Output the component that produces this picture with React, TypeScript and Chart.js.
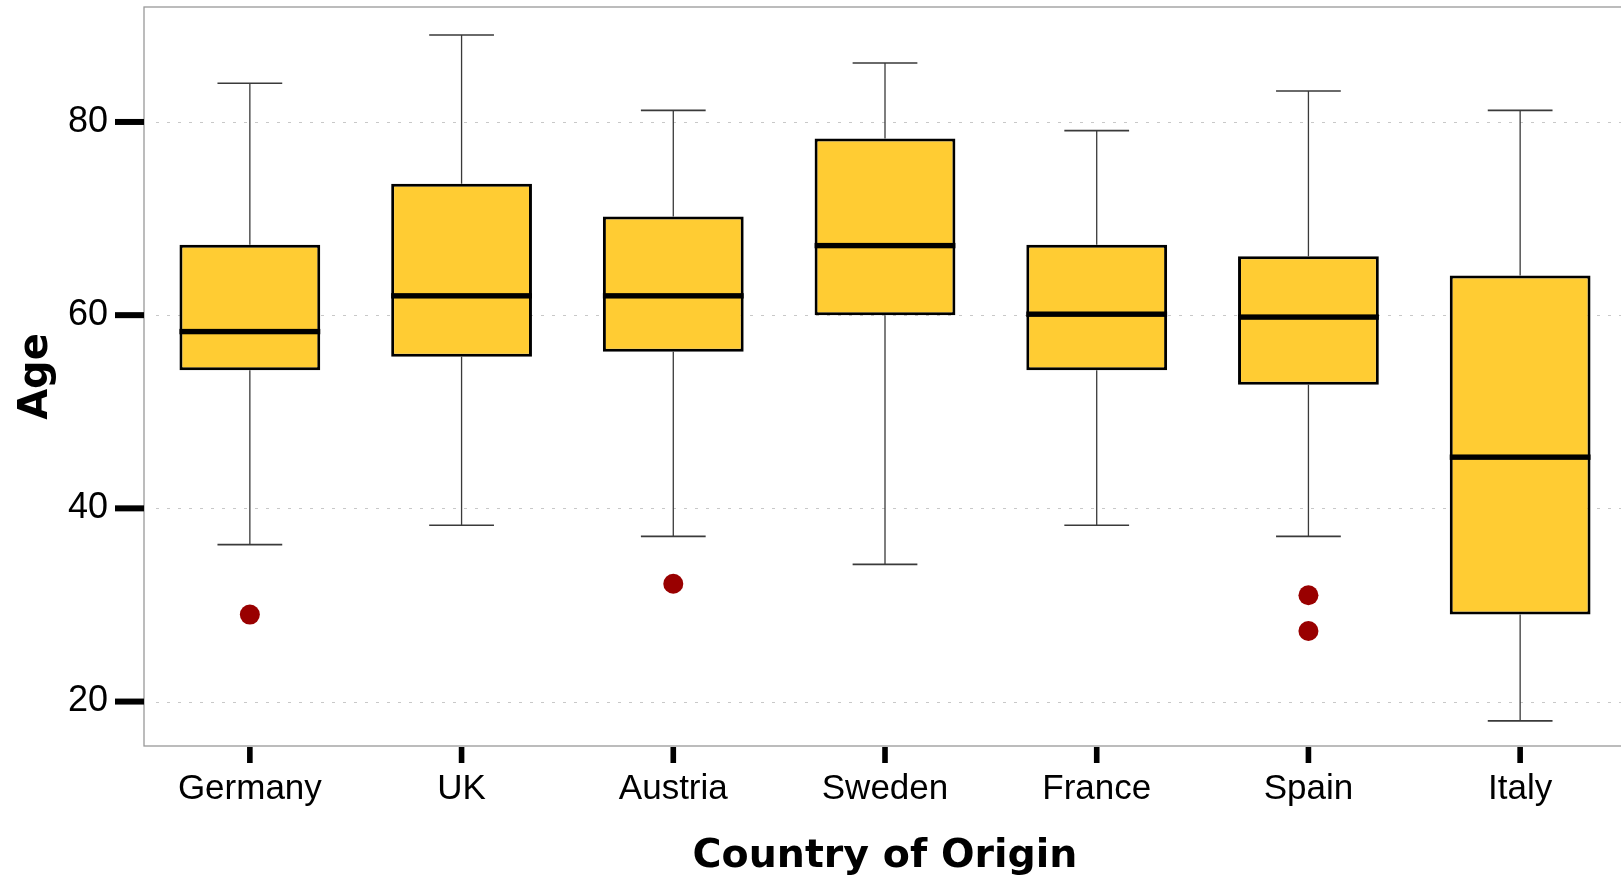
import React, { useEffect, useRef } from 'react';
import { Chart, registerables } from 'chart.js';

Chart.register(...registerables);

// ---- data ----
const countries = ['Germany', 'UK', 'Austria', 'Sweden', 'France', 'Spain', 'Italy'];
const whiskerLow = [36.25, 38.25, 37.1, 34.2, 38.25, 37.1, 18.0];
const q1 = [54.3, 55.7, 56.2, 60.0, 54.3, 52.8, 29.0];
const median = [58.3, 62.0, 62.0, 67.2, 60.1, 59.8, 45.3];
const q3 = [67.3, 73.6, 70.2, 78.3, 67.3, 66.1, 64.1];
const whiskerHigh = [84.0, 89.0, 81.2, 86.1, 79.1, 83.2, 81.2];
const outlierCountries = ['Germany', 'Austria', 'Spain', 'Spain'];
const outlierValues = [29.0, 32.2, 31.0, 27.3];
const yTicks = [20, 40, 60, 80];
const yMin = 15.4;
const yMax = 91.9;

const boxPlugin = {
  id: 'boxExtras',
  beforeDatasetsDraw(chart: any) {
    const { ctx, chartArea, scales } = chart;
    const x = scales.x;
    const y = scales.y;
    ctx.save();
    // dotted grid lines
    ctx.strokeStyle = '#c8c8c8';
    ctx.lineWidth = 1;
    ctx.setLineDash([3, 8]);
    yTicks.forEach((v) => {
      const py = Math.round(y.getPixelForValue(v)) + 0.5;
      ctx.beginPath();
      ctx.moveTo(chartArea.left + 12, py);
      ctx.lineTo(chartArea.right, py);
      ctx.stroke();
    });
    ctx.setLineDash([]);
    // frame
    ctx.strokeStyle = '#999999';
    ctx.lineWidth = 1.3;
    ctx.strokeRect(chartArea.left, chartArea.top, chartArea.right - chartArea.left, chartArea.bottom - chartArea.top);
    // whiskers
    const meta = chart.getDatasetMeta(0);
    meta.data.forEach((bar: any, i: number) => {
      const cx = x.getPixelForValue(i);
      const w = bar.width;
      const half = w * 0.23;
      const pHigh = y.getPixelForValue(whiskerHigh[i]);
      const pLow = y.getPixelForValue(whiskerLow[i]);
      const pQ3 = y.getPixelForValue(q3[i]);
      const pQ1 = y.getPixelForValue(q1[i]);
      ctx.strokeStyle = '#3a3a3a';
      ctx.lineWidth = 1.3;
      ctx.beginPath();
      ctx.moveTo(cx, pQ3);
      ctx.lineTo(cx, pHigh);
      ctx.moveTo(cx, pQ1);
      ctx.lineTo(cx, pLow);
      ctx.stroke();
      ctx.lineWidth = 1.6;
      ctx.beginPath();
      ctx.moveTo(cx - half, pHigh);
      ctx.lineTo(cx + half, pHigh);
      ctx.moveTo(cx - half, pLow);
      ctx.lineTo(cx + half, pLow);
      ctx.stroke();
    });
    ctx.restore();
  },
  afterDatasetsDraw(chart: any) {
    const { ctx, chartArea, scales } = chart;
    const x = scales.x;
    const y = scales.y;
    ctx.save();
    const meta = chart.getDatasetMeta(0);
    ctx.fillStyle = '#000';
    meta.data.forEach((bar: any, i: number) => {
      const cx = x.getPixelForValue(i);
      const w = bar.width;
      const pm = y.getPixelForValue(median[i]);
      ctx.fillRect(cx - w / 2, pm - 2.7, w, 5.4);
    });
    // tick marks
    yTicks.forEach((v) => {
      const py = y.getPixelForValue(v);
      ctx.fillRect(chartArea.left - 29, py - 3, 29, 6);
    });
    countries.forEach((_, i) => {
      const px = x.getPixelForValue(i);
      ctx.fillRect(px - 2.8, chartArea.bottom + 1, 5.6, 16);
    });
    ctx.restore();
  },
};

export default function App() {
  const canvasRef = useRef<HTMLCanvasElement | null>(null);

  useEffect(() => {
    const canvas = canvasRef.current;
    if (!canvas) return;
    const chart = new Chart(canvas, {
      type: 'bar',
      data: {
        labels: countries,
        datasets: [
          {
            type: 'bar',
            data: q1.map((v, i) => [v, q3[i]]),
            backgroundColor: '#FFCC33',
            borderColor: '#000000',
            borderWidth: 3,
            borderSkipped: false,
            barPercentage: 0.665,
            categoryPercentage: 1,
          } as any,
          {
            type: 'scatter',
            data: outlierCountries.map((c, i) => ({ x: c, y: outlierValues[i] })),
            backgroundColor: '#990000',
            borderColor: '#990000',
            borderWidth: 0,
            pointRadius: 10,
            showLine: false,
          } as any,
        ],
      },
      options: {
        responsive: false,
        animation: false,
        devicePixelRatio: 1,
        events: [],
        layout: { padding: { top: 0, right: 14, bottom: 0, left: 0 } },
        plugins: {
          legend: { display: false },
          tooltip: { enabled: false },
        },
        scales: {
          x: {
            type: 'category',
            offset: true,
            grid: { display: false, drawTicks: false },
            border: { display: false },
            ticks: {
              color: '#000',
              padding: 22,
              font: { family: 'Liberation Sans', size: 35 },
            },
            title: {
              display: true,
              text: 'Country of Origin',
              color: '#000',
              font: { family: 'DejaVu Sans', size: 39.5, weight: 'bold' },
              padding: { top: 0, bottom: 3 },
            },
            afterFit: (s: any) => {
              s.height = 137;
              s.paddingLeft = 0;
              s.paddingRight = 0;
            },
          },
          y: {
            type: 'linear',
            min: yMin,
            max: yMax,
            grid: { display: false, drawTicks: false },
            border: { display: false },
            afterBuildTicks: (s: any) => {
              s.ticks = yTicks.map((v) => ({ value: v }));
            },
            ticks: {
              color: '#000',
              padding: 36,
              font: { family: 'Liberation Sans', size: 36 },
            },
            title: {
              display: true,
              text: 'Age',
              color: '#000',
              font: { family: 'DejaVu Sans', size: 40, weight: 'bold' },
              padding: { top: 13, bottom: 0 },
            },
            afterFit: (s: any) => {
              s.width = 144;
              s.paddingTop = 0;
              s.paddingBottom = 0;
            },
          },
        },
      } as any,
      plugins: [boxPlugin],
    });
    return () => chart.destroy();
  }, []);

  return (
    <div
      style={{
        position: 'fixed',
        left: 0,
        top: 0,
        width: 1621,
        height: 883,
        overflow: 'hidden',
        background: '#ffffff',
      }}
    >
      <canvas
        ref={canvasRef}
        width={1640}
        height={886}
        style={{ display: 'block', position: 'absolute', left: 0, top: -3, width: 1640, height: 886 }}
      />
    </div>
  );
}
